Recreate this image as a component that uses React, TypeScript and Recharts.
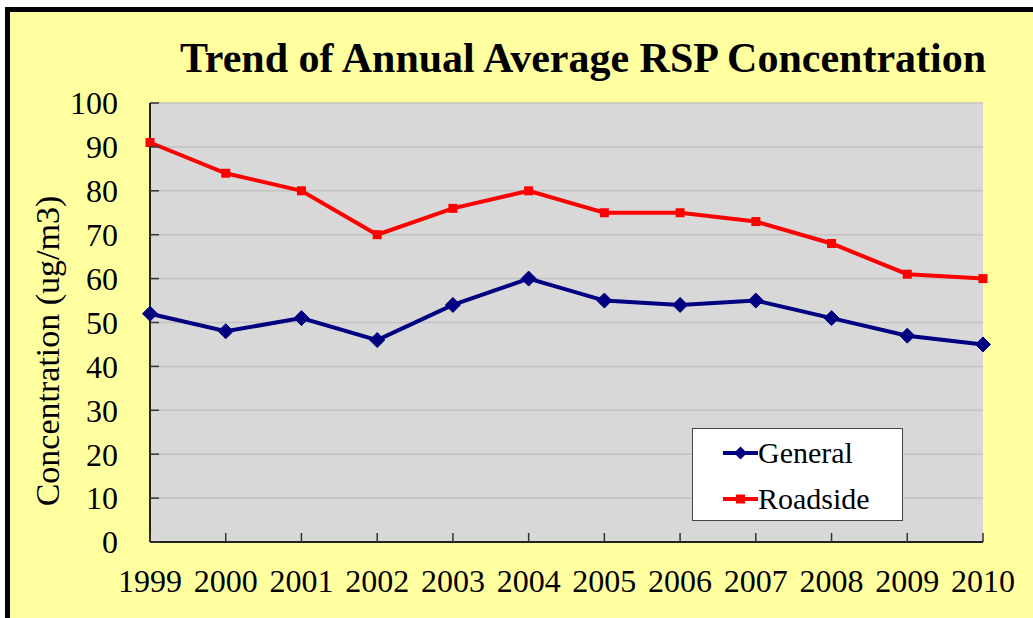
import { LineChart, Line, XAxis, YAxis, CartesianGrid, Legend, ReferenceArea } from 'recharts'

const years = ['1999', '2000', '2001', '2002', '2003', '2004', '2005', '2006', '2007', '2008', '2009', '2010']
const general = [52, 48, 51, 46, 54, 60, 55, 54, 55, 51, 47, 45]
const roadside = [91, 84, 80, 70, 76, 80, 75, 75, 73, 68, 61, 60]
const yTicks = [0, 10, 20, 30, 40, 50, 60, 70, 80, 90, 100]

const data = years.map((year, i) => ({ year, General: general[i], Roadside: roadside[i] }))

const W = 1033
const H = 618
const PLOT_LEFT = 150
const PLOT_TOP = 103
const PLOT_RIGHT = 983
const PLOT_BOTTOM = 542
const FONT = '"Liberation Serif", "Times New Roman", serif'
const NAVY = '#000080'
const RED = '#FF0000'

const diamond = (cx: number, cy: number, r: number) =>
  `M${cx},${cy - r}L${cx + r},${cy}L${cx},${cy + r}L${cx - r},${cy}Z`

const diamondDot = (props: any) => {
  const { cx, cy, index } = props
  return <path key={`g-${index}`} d={diamond(cx, cy, 7.5)} fill={NAVY} stroke={NAVY} />
}

const squareDot = (props: any) => {
  const { cx, cy, index } = props
  return <rect key={`r-${index}`} x={cx - 4.5} y={cy - 4.5} width={9} height={9} fill={RED} />
}

const YTick = (props: any) => {
  const { x, y, payload } = props
  return (
    <g>
      <line x1={PLOT_LEFT} x2={PLOT_LEFT + 9} y1={y} y2={y} stroke="#333" strokeWidth={1.5} />
      <text x={x} y={y} dy="0.355em" textAnchor="end" fontFamily={FONT} fontSize={32} fill="#000">
        {payload.value}
      </text>
    </g>
  )
}

const XTick = (props: any) => {
  const { x, y, payload } = props
  return (
    <g>
      <line x1={x} x2={x} y1={PLOT_BOTTOM} y2={PLOT_BOTTOM - 9} stroke="#333" strokeWidth={1.5} />
      <text x={x} y={y} dy="0.71em" textAnchor="middle" fontFamily={FONT} fontSize={32} fill="#000">
        {payload.value}
      </text>
    </g>
  )
}

const LegendBox = (props: any) => {
  const { payload } = props
  return (
    <div
      style={{
        width: 211,
        height: 93,
        boxSizing: 'border-box',
        background: '#fff',
        border: '1.5px solid #444',
        paddingTop: 1,
        paddingLeft: 30,
      }}
    >
      {(payload || []).map((entry: any) => (
        <div key={entry.value} style={{ display: 'flex', alignItems: 'center', height: 46 }}>
          <svg width={35} height={20}>
            <line x1={0} x2={35} y1={10} y2={10} stroke={entry.color} strokeWidth={4} />
            {entry.value === 'General' ? (
              <path d={diamond(17.5, 10, 6.5)} fill={entry.color} />
            ) : (
              <rect x={13} y={5.5} width={9} height={9} fill={entry.color} />
            )}
          </svg>
          <span style={{ fontFamily: FONT, fontSize: 30, color: '#000', lineHeight: '30px' }}>{entry.value}</span>
        </div>
      ))}
    </div>
  )
}

export default function App() {
  return (
    <div style={{ position: 'absolute', left: 0, top: 0, width: W, height: H, overflow: 'hidden', background: '#fff' }}>
      <div
        style={{
          position: 'absolute',
          left: 5,
          top: 7,
          width: 1100,
          height: 700,
          boxSizing: 'border-box',
          border: '5px solid #000',
          background: '#FFFFA0',
        }}
      />
      <svg width={W} height={H} style={{ position: 'absolute', left: 0, top: 0 }}>
        <text x={583} y={72} textAnchor="middle" fontFamily={FONT} fontWeight="bold" fontSize={42} fill="#000">
          Trend of Annual Average RSP Concentration
        </text>
        <text
          transform="translate(59,351) rotate(-90)"
          textAnchor="middle"
          fontFamily={FONT}
          fontSize={34}
          fill="#000"
        >
          Concentration (ug/m3)
        </text>
      </svg>
      <div style={{ position: 'absolute', left: 0, top: 0 }}>
        <LineChart
          width={W}
          height={H}
          data={data}
          margin={{ top: PLOT_TOP, right: W - PLOT_RIGHT, bottom: H - PLOT_BOTTOM - 40, left: PLOT_LEFT - 150 }}
        >
          <CartesianGrid vertical={false} fill="#D8D8D8" stroke="#C2C2C2" strokeWidth={1.5} />
          <XAxis
            dataKey="year"
            height={40}
            tickSize={0}
            tickMargin={27}
            tick={<XTick />}
            axisLine={{ stroke: '#222', strokeWidth: 2 }}
            tickLine={false}
            interval={0}
          />
          <YAxis
            width={150}
            domain={[0, 100]}
            ticks={yTicks}
            tickSize={0}
            tickMargin={32}
            tick={<YTick />}
            axisLine={{ stroke: '#222', strokeWidth: 2 }}
            tickLine={false}
            interval={0}
          />
          <ReferenceArea x1="1999" x2="2010" y1={0} y2={100} fill="none" stroke="#333" strokeWidth={2} />
          <Legend
            layout="vertical"
            align="center"
            verticalAlign="middle"
            content={<LegendBox />}
            wrapperStyle={{ position: 'absolute', left: 692, top: 428, width: 211, height: 93 }}
          />
          <Line
            dataKey="General"
            stroke={NAVY}
            strokeWidth={4}
            dot={diamondDot}
            activeDot={false}
            isAnimationActive={false}
          />
          <Line
            dataKey="Roadside"
            stroke={RED}
            strokeWidth={4}
            dot={squareDot}
            activeDot={false}
            isAnimationActive={false}
          />
        </LineChart>
      </div>
    </div>
  )
}
